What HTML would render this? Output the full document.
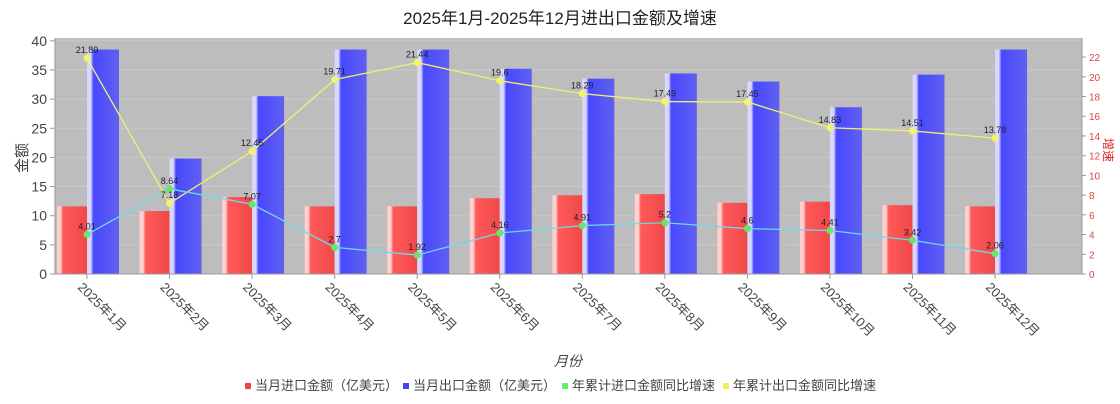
<!DOCTYPE html>
<html><head><meta charset="utf-8"><style>
html,body{margin:0;padding:0;background:#fff;}
svg{display:block;font-family:"Liberation Sans","Noto Sans CJK SC",sans-serif;}
</style></head><body>
<svg id="s" width="1120" height="404" xmlns="http://www.w3.org/2000/svg">
<defs>
<linearGradient id="gr" x1="0" x2="1"><stop offset="0" stop-color="#ffd0d0"/><stop offset="0.12" stop-color="#ffd0d0"/><stop offset="0.2" stop-color="#ff5a5a"/><stop offset="1" stop-color="#f04848"/></linearGradient>
<linearGradient id="gb" x1="0" x2="1"><stop offset="0" stop-color="#d8d8ff"/><stop offset="0.12" stop-color="#d8d8ff"/><stop offset="0.2" stop-color="#4848ff"/><stop offset="1" stop-color="#6060f0"/></linearGradient>
</defs>
<text x="560" y="24" text-anchor="middle" font-size="17" fill="#222">2025年1月-2025年12月进出口金额及增速</text>
<rect x="55" y="38" width="1027" height="236" fill="#bdbdbd"/>
<g id="g"></g>
<line x1="55" y1="38" x2="55" y2="274" stroke="#999"/>
<line x1="1082" y1="38" x2="1082" y2="274" stroke="#999"/>
<line x1="55" y1="274" x2="1082" y2="274" stroke="#999"/>
<text transform="translate(27,158) rotate(-90)" text-anchor="middle" font-size="15" fill="#444">金额</text>
<text transform="translate(1104,150) rotate(90)" text-anchor="middle" font-size="12" fill="#d22">增速</text>
<text x="568" y="366" text-anchor="middle" font-size="14" font-style="italic" fill="#444">月份</text>
<g font-size="13" fill="#444">
<rect x="245" y="383" width="6" height="6" fill="#e44"/><text x="255" y="390">当月进口金额（亿美元）</text>
<rect x="403" y="383" width="6" height="6" fill="#44e"/><text x="413" y="390">当月出口金额（亿美元）</text>
<rect x="562" y="383" width="6" height="6" fill="#6e6"/><text x="572" y="390">年累计进口金额同比增速</text>
<rect x="723" y="383" width="6" height="6" fill="#ee6"/><text x="733" y="390">年累计出口金额同比增速</text>
</g>
</svg>
<script>
var g=document.getElementById('g'),h='';
function yl(v){return 274-5.83*v}function yr(v){return 274-9.86*v}
for(var v=0;v<=40;v+=5){var y=yl(v);h+='<line x1="55" x2="1082" y1="'+y+'" y2="'+y+'" stroke="#cacaca" stroke-width="1"/>';h+='<text x="47" y="'+(y+5)+'" text-anchor="end" font-size="14" fill="#444">'+v+'</text><line x1="50" x2="55" y1="'+y+'" y2="'+y+'" stroke="#999"/>';}
for(var v=0;v<=22;v+=2){var y=yr(v);h+='<text x="1089" y="'+(y+4)+'" font-size="10" fill="#d44">'+v+'</text><line x1="1082" x2="1086" y1="'+y+'" y2="'+y+'" stroke="#999"/>';}
var B=[38.5,19.8,30.5,38.5,38.5,35.2,33.5,34.4,33,28.6,34.2,38.5],R=[11.6,10.8,13.2,11.6,11.6,13,13.5,13.7,12.2,12.4,11.8,11.6],
Y=[21.89,7.18,12.45,19.71,21.44,19.6,18.29,17.49,17.45,14.83,14.51,13.78],G=[4.01,8.64,7.07,2.7,1.92,4.16,4.91,5.2,4.6,4.41,3.42,2.06];
var py='',pg='',pts='';
for(var i=0;i<12;i++){var c=87+82.55*i;
h+='<rect x="'+(c-30)+'" y="'+yl(R[i])+'" width="30" height="'+(274-yl(R[i]))+'" fill="url(#gr)"/>';
h+='<rect x="'+c+'" y="'+yl(B[i])+'" width="32" height="'+(274-yl(B[i]))+'" fill="url(#gb)"/>';
py+=c+','+yr(Y[i])+' ';pg+=c+','+yr(G[i])+' ';
pts+='<circle cx="'+c+'" cy="'+yr(Y[i])+'" r="3.5" fill="#f4f46a"/><circle cx="'+c+'" cy="'+yr(G[i])+'" r="3.5" fill="#66e866"/>';
pts+='<text x="'+c+'" y="'+(yr(Y[i])-5)+'" text-anchor="middle" font-size="9" fill="#222">'+Y[i]+'</text>';
pts+='<text x="'+c+'" y="'+(yr(G[i])-5)+'" text-anchor="middle" font-size="9" fill="#222">'+G[i]+'</text>';
h+='<line x1="'+c+'" x2="'+c+'" y1="274" y2="279" stroke="#999"/>';
h+='<text transform="translate('+(c-10)+',288) rotate(45)" font-size="13" fill="#444">2025年'+(i+1)+'月</text>';}
h+='<polyline points="'+py+'" fill="none" stroke="#f0f070" stroke-width="1.3"/>';
h+='<polyline points="'+pg+'" fill="none" stroke="#70d8e8" stroke-width="1.3"/>';
h+=pts;g.innerHTML=h;
</script>
</body></html>
